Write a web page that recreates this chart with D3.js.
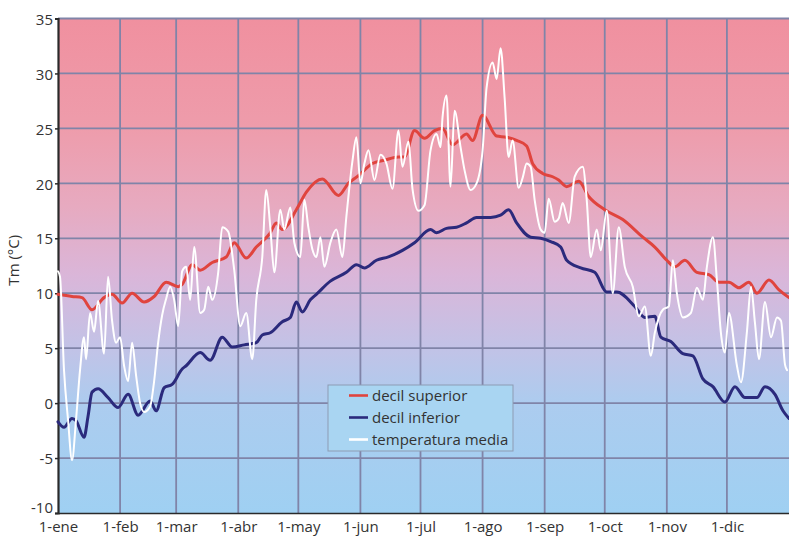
<!DOCTYPE html>
<html>
<head>
<meta charset="utf-8">
<script src="https://cdn.jsdelivr.net/npm/d3@7"></script>
<style>
  html, body { margin: 0; padding: 0; background: #ffffff; }
  svg { display: block; font-family: "Open Sans", "Noto Sans", sans-serif; }
</style>
</head>
<body>
<svg id="chart" width="789" height="537"></svg>
<script>
// Month starts (day of year) and their labels
const monthDays = [0, 31, 59, 90, 120, 151, 181, 212, 243, 273, 304, 334];
const monthLabels = ["1-ene", "1-feb", "1-mar", "1-abr", "1-may", "1-jun",
                     "1-jul", "1-ago", "1-sep", "1-oct", "1-nov", "1-dic"];
const yTicks = [-10, -5, 0, 5, 10, 15, 20, 25, 30, 35];

// Upper decile of daily mean temperature (°C)
const supDays = [0, 7, 12, 17, 23, 27, 32, 37, 43, 48, 54, 60, 62, 67, 71, 77, 84, 88, 94, 99,
  106, 109, 112, 119, 124, 132, 140, 145, 150, 157, 163, 170, 173, 178, 183, 188, 192, 197, 204, 207,
  212, 219, 224, 229, 234, 237, 242, 247, 250, 254, 260, 265, 273, 282, 292, 298, 304, 308, 313, 319,
  325, 330, 335, 340, 345, 349, 355, 360, 365];
const supValues = [9.9, 9.7, 9.6, 8.5, 9.6, 9.9, 9.1, 10.0, 9.2, 9.7, 11.0, 10.6, 10.8, 12.6, 12.1, 12.8, 13.3, 14.6, 13.2, 14.2,
  15.5, 16.4, 15.8, 17.6, 19.2, 20.4, 18.9, 20.0, 20.7, 21.8, 22.1, 22.4, 22.4, 24.8, 24.1, 24.8, 25.0, 23.5, 24.5, 23.9,
  26.2, 24.3, 24.2, 23.9, 23.4, 21.8, 20.9, 20.6, 20.3, 19.7, 20.2, 18.8, 17.6, 16.7, 15.1, 14.2, 13.0, 12.4, 13.0, 11.9,
  11.7, 11.0, 11.0, 10.5, 11.0, 10.0, 11.2, 10.3, 9.6];

// Lower decile of daily mean temperature (°C)
const infDays = [0, 3, 7, 9, 13, 15, 17, 20, 25, 30, 35, 40, 46, 49, 53, 57, 62, 64, 71, 76,
  82, 87, 93, 99, 102, 106, 112, 116, 119, 122, 126, 129, 136, 144, 149, 153, 159, 165, 172, 178,
  186, 189, 194, 199, 204, 209, 216, 221, 225, 229, 236, 241, 246, 251, 254, 261, 268, 274, 279, 288,
  293, 298, 301, 306, 312, 317, 322, 327, 333, 338, 343, 349, 353, 358, 362, 365];
const infValues = [-1.7, -2.2, -1.4, -1.6, -3.1, -1.2, 1.0, 1.3, 0.5, -0.4, 0.8, -1.1, 0.2, -0.7, 1.4, 1.7, 3.1, 3.4, 4.6, 3.9,
  6.0, 5.1, 5.3, 5.5, 6.2, 6.4, 7.4, 7.8, 9.2, 8.3, 9.4, 9.9, 11.1, 11.9, 12.6, 12.3, 13.0, 13.3, 13.9, 14.6,
  15.8, 15.5, 15.9, 16.0, 16.4, 16.9, 16.9, 17.1, 17.6, 16.4, 15.1, 15.0, 14.7, 14.2, 13.0, 12.3, 11.9, 10.1, 10.1, 8.8,
  7.8, 7.9, 6.0, 5.6, 4.5, 4.3, 2.2, 1.5, 0.1, 1.5, 0.5, 0.5, 1.5, 0.8, -0.7, -1.4];

// Daily mean temperature of the year (°C)
const medDays = [0, 1, 3, 5, 7, 9, 11, 13, 14, 16, 18, 20, 23, 25, 27, 29, 31, 33, 35, 37,
  39, 41, 43, 46, 48, 50, 52, 54, 56, 58, 60, 62, 64, 66, 68, 71, 73, 75, 77, 80,
  82, 85, 88, 91, 94, 97, 99, 102, 104, 106, 108, 111, 113, 116, 118, 121, 123, 125, 127, 129,
  131, 133, 136, 139, 142, 144, 147, 149, 151, 153, 155, 158, 161, 164, 167, 170, 172, 175, 177, 180,
  183, 186, 189, 191, 192, 194, 196, 198, 201, 203, 206, 209, 212, 214, 217, 219, 221, 223, 225, 227,
  230, 232, 234, 236, 238, 241, 243, 245, 248, 250, 252, 255, 258, 262, 264, 266, 269, 271, 274, 277,
  280, 283, 287, 290, 293, 296, 298, 302, 305, 307, 309, 312, 316, 319, 322, 324, 327, 329, 331, 333,
  335, 339, 341, 344, 346, 348, 350, 353, 356, 359, 361, 363, 364];
const medValues = [12.0, 11.5, 3.0, -1.5, -5.2, -1.5, 3.0, 6.0, 4.0, 8.2, 6.5, 9.3, 4.5, 11.5, 7.5, 5.5, 6.0, 3.4, 2.0, 5.5,
  2.5, 0.0, -0.8, -0.3, 2.0, 5.5, 8.0, 9.5, 10.6, 9.4, 7.0, 12.0, 12.4, 9.4, 14.2, 8.2, 8.5, 10.6, 9.4, 11.9,
  16.0, 15.6, 12.1, 7.0, 8.2, 4.0, 9.4, 13.3, 19.4, 16.0, 11.9, 17.6, 15.8, 17.8, 14.6, 13.3, 18.5, 16.0, 14.0, 13.3,
  15.1, 12.4, 14.6, 15.8, 13.3, 17.0, 22.0, 24.2, 20.0, 21.8, 23.0, 20.3, 22.6, 21.8, 19.5, 24.8, 21.5, 23.8, 19.5, 17.5,
  18.0, 23.0, 24.5, 23.3, 26.0, 28.0, 19.7, 26.6, 23.3, 21.2, 19.4, 20.0, 23.0, 28.7, 31.0, 29.5, 32.3, 27.8, 22.4, 23.9,
  19.6, 20.5, 21.8, 21.5, 18.5, 15.8, 15.5, 18.6, 16.5, 16.8, 18.2, 16.4, 20.6, 21.5, 18.5, 13.3, 15.8, 13.9, 17.5, 10.0,
  16.0, 12.4, 10.6, 7.9, 8.8, 4.3, 6.4, 8.5, 8.8, 13.0, 10.0, 7.8, 8.2, 10.5, 9.4, 12.4, 15.1, 11.2, 6.4, 4.6,
  8.2, 3.4, 1.9, 6.5, 10.6, 7.3, 4.0, 9.2, 6.0, 7.8, 7.5, 3.5, 3.0];

const legendLabels = ["decil superior", "decil inferior", "temperatura media"];

const svg = d3.select("#chart");
const plotLeft = 58, plotRight = 789, plotTop = 18.5, plotBottom = 513;

const x = d3.scaleLinear().domain([0, 365]).range([plotLeft, plotRight]);
const y = d3.scaleLinear().domain([-10, 35]).range([plotBottom, plotTop]);

// Background gradient: warm red on top fading through lilac to light blue
const defs = svg.append("defs");
const grad = defs.append("linearGradient")
  .attr("id", "bg").attr("x1", 0).attr("y1", 0).attr("x2", 0).attr("y2", 1);
[[0, "#f0909f"], [0.22, "#ee9cab"], [0.38, "#e7aac0"], [0.52, "#dab6d9"],
 [0.66, "#c3c2e6"], [0.78, "#acccef"], [1, "#9fd0f2"]]
  .forEach(([o, c]) => grad.append("stop").attr("offset", o).attr("stop-color", c));

svg.append("rect")
  .attr("x", plotLeft).attr("y", plotTop)
  .attr("width", plotRight - plotLeft).attr("height", plotBottom - plotTop)
  .attr("fill", "url(#bg)");

// Grid lines
const grid = svg.append("g").attr("class", "grid");
grid.selectAll("line.h")
  .data(yTicks.filter(d => d > -10))
  .join("line")
  .attr("class", "h")
  .attr("x1", plotLeft).attr("x2", plotRight)
  .attr("y1", d => y(d)).attr("y2", d => y(d))
  .attr("stroke", "#8084a8").attr("stroke-width", 1.8);
grid.selectAll("line.v")
  .data(monthDays.slice(1))
  .join("line")
  .attr("class", "v")
  .attr("x1", d => x(d)).attr("x2", d => x(d))
  .attr("y1", plotTop).attr("y2", plotBottom)
  .attr("stroke", "#8084a8").attr("stroke-width", 1.8);

// Axes
const yAxis = svg.append("g")
  .attr("transform", `translate(${plotLeft},0)`)
  .call(d3.axisLeft(y).tickValues(yTicks).tickSize(3).tickPadding(2).tickFormat(d => String(d)));
yAxis.select(".domain").attr("stroke", "#2a2a2a").attr("stroke-width", 2.2);
yAxis.selectAll(".tick line").attr("stroke", "#2a2a2a").attr("stroke-width", 1.5);
yAxis.selectAll(".tick text")
  .attr("font-size", 15).attr("fill", "#333")
  .attr("dy", d => d === -10 ? "-0.05em" : "0.38em")
  .style("font-family", "'Open Sans', sans-serif");

const xAxis = svg.append("g")
  .attr("transform", `translate(0,${plotBottom})`)
  .call(d3.axisBottom(x).tickValues(monthDays).tickSize(0).tickPadding(8)
    .tickFormat((d, i) => monthLabels[i]));
xAxis.select(".domain").attr("stroke", "#2a2a2a").attr("stroke-width", 1.5);
xAxis.selectAll(".tick text")
  .attr("font-size", 15).attr("fill", "#333")
  .style("font-family", "'Open Sans', sans-serif");

// Y axis title
svg.append("text")
  .attr("transform", `translate(19,${y(13)}) rotate(-90)`)
  .attr("text-anchor", "middle")
  .attr("font-size", 15).attr("fill", "#333")
  .text("Tm (°C)");

// Series lines
const line = d3.line()
  .x(d => x(d[0])).y(d => y(d[1]))
  .curve(d3.curveMonotoneX);

const series = [
  { days: supDays, values: supValues, color: "#e0443e", width: 3 },
  { days: infDays, values: infValues, color: "#2b2a7c", width: 3 },
  { days: medDays, values: medValues, color: "#ffffff", width: 2 }
];

const plot = svg.append("g");
series.forEach(s => {
  plot.append("path")
    .datum(s.days.map((d, i) => [d, s.values[i]]))
    .attr("fill", "none")
    .attr("stroke", s.color)
    .attr("stroke-width", s.width)
    .attr("stroke-linejoin", "round")
    .attr("stroke-linecap", "round")
    .attr("d", line);
});

// Legend
const lg = svg.append("g").attr("transform", "translate(328,385)");
lg.append("rect")
  .attr("width", 185).attr("height", 66)
  .attr("fill", "#a9d5f2").attr("stroke", "#8d9bb3").attr("stroke-width", 1);
legendLabels.forEach((t, i) => {
  const cy = 10.5 + i * 22;
  lg.append("line")
    .attr("x1", 21).attr("x2", 40).attr("y1", cy).attr("y2", cy)
    .attr("stroke", series[i].color).attr("stroke-width", 2.6);
  lg.append("text")
    .attr("x", 44).attr("y", cy + 5)
    .attr("font-size", 15).attr("fill", "#333")
    .text(t);
});
</script>
</body>
</html>
